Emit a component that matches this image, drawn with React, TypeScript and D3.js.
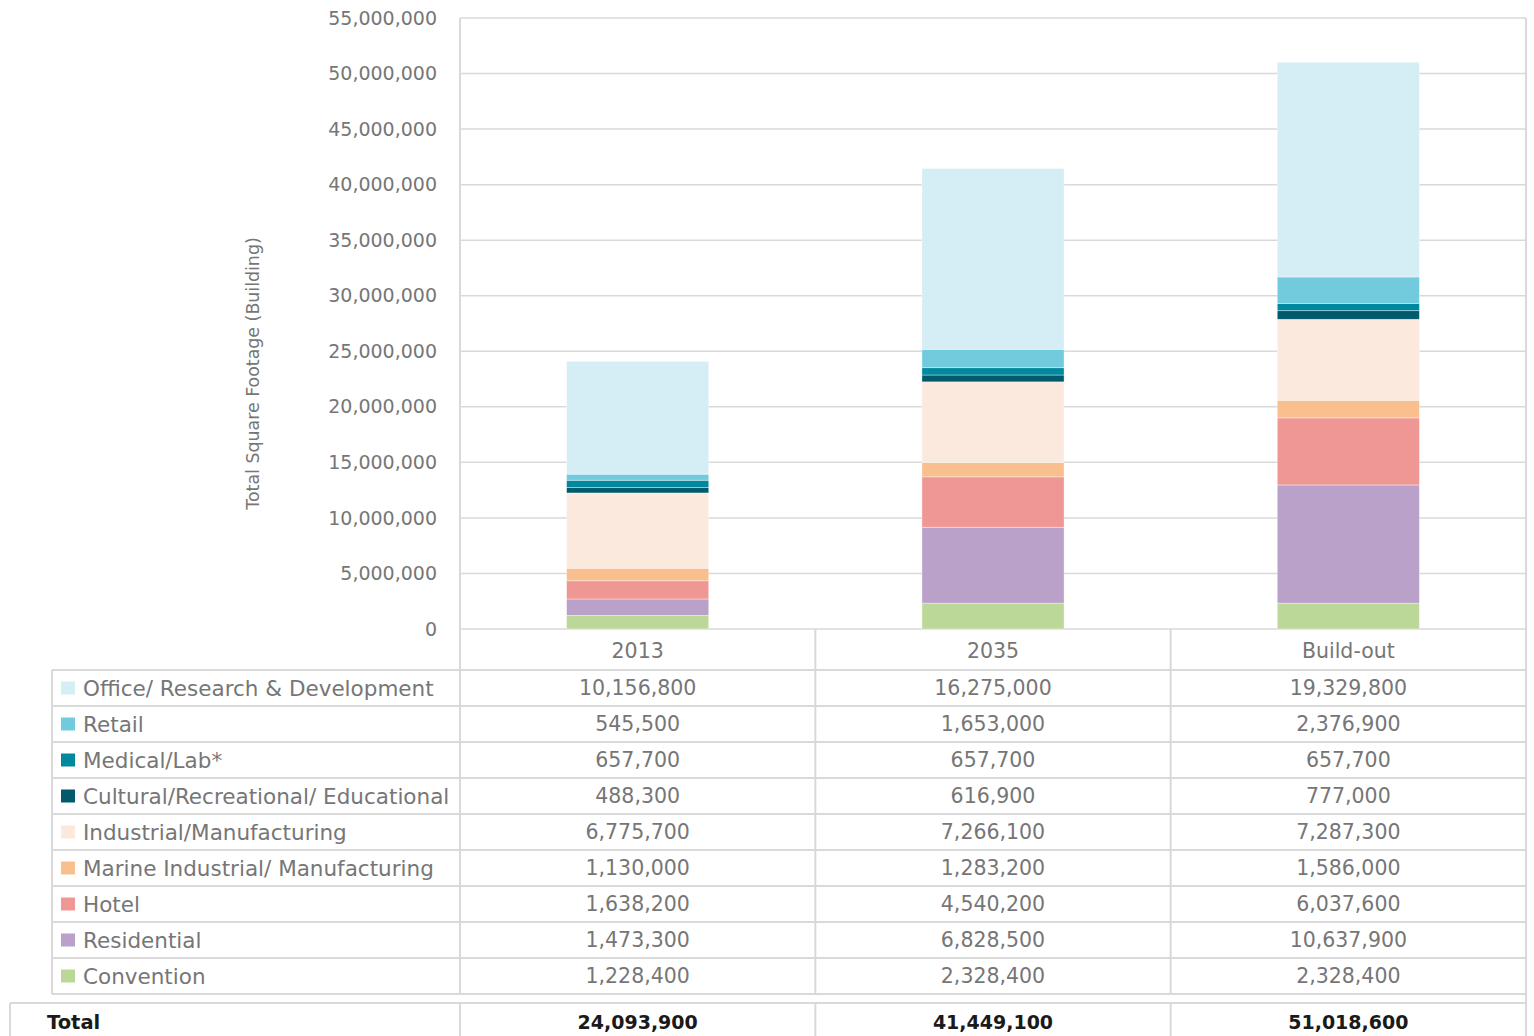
import * as d3 from 'd3';

// Columns of the chart / table
const periods = ['2013', '2035', 'Build-out'];

// Series, listed as in the table (top to bottom)
const seriesNames = [
  'Office/ Research & Development',
  'Retail',
  'Medical/Lab*',
  'Cultural/Recreational/ Educational',
  'Industrial/Manufacturing',
  'Marine Industrial/ Manufacturing',
  'Hotel',
  'Residential',
  'Convention',
];

const office = [10156800, 16275000, 19329800];
const retail = [545500, 1653000, 2376900];
const medical = [657700, 657700, 657700];
const cultural = [488300, 616900, 777000];
const industrial = [6775700, 7266100, 7287300];
const marine = [1130000, 1283200, 1586000];
const hotel = [1638200, 4540200, 6037600];
const residential = [1473300, 6828500, 10637900];
const convention = [1228400, 2328400, 2328400];

// Totals as printed in the source table
const totals = [24093900, 41449100, 51018600];

const seriesValues = [office, retail, medical, cultural, industrial, marine, hotel, residential, convention];

const seriesColors = [
  '#d5edf4', '#72cbdc', '#00889e', '#005a6b', '#fce9dd',
  '#f9bf8f', '#ef9795', '#b9a1ca', '#bcd898',
];

const yTicks = [0, 5e6, 10e6, 15e6, 20e6, 25e6, 30e6, 35e6, 40e6, 45e6, 50e6, 55e6];

export default function App() {
  const width = 1534;
  const height = 1036;

  // Plot area
  const left = 460;
  const right = 1526;
  const top = 18;
  const bottom = 629;

  // Table layout
  const headerBottom = 670;
  const rowH = 36;
  const legendLeft = 52;
  const tableBottom = headerBottom + rowH * seriesNames.length;
  const totalTop = 1003;

  const font = '"DejaVu Sans", "Open Sans", sans-serif';
  const grid = '#d9d9d9';
  const textColor = '#767676';

  const x = d3.scaleBand<string>().domain(periods).range([left, right]).paddingInner(0).paddingOuter(0);
  const y = d3.scaleLinear().domain([0, 55e6]).range([bottom, top]);
  const fmt = d3.format(',');
  const barW = x.bandwidth() * 0.4;

  // Stack bottom-up: convention first, office last
  const stackKeys = seriesNames.map((_, i) => i).reverse();
  const rows = periods.map((p, j) => {
    const r: Record<string, number | string> = { period: p };
    seriesNames.forEach((n, i) => (r[n] = seriesValues[i][j]));
    return r;
  });
  const stack = d3.stack<any>().keys(stackKeys.map((i) => seriesNames[i]));
  const layers = stack(rows);

  const colEdges = [left, ...periods.map((p) => (x(p) ?? 0) + x.bandwidth())];

  return (
    <svg width={width} height={height} style={{ position: 'absolute', left: 0, top: 0, background: '#fff' }}>
      {/* gridlines */}
      {yTicks.map((t) => (
        <line key={t} x1={left} x2={right} y1={y(t)} y2={y(t)} stroke={grid} strokeWidth={1.5} />
      ))}
      <line x1={left} x2={left} y1={top} y2={height} stroke={grid} strokeWidth={2} />
      <line x1={right} x2={right} y1={top} y2={height} stroke={grid} strokeWidth={2} />

      {/* y tick labels */}
      {yTicks.map((t) => (
        <text key={t} x={437} y={y(t)} dy="0.35em" textAnchor="end" fontFamily={font} fontSize={19} fill={textColor}>
          {fmt(t)}
        </text>
      ))}

      <text
        transform={`translate(259, ${(y(0) + y(55e6)) / 2 + 50}) rotate(-90)`}
        textAnchor="middle"
        fontFamily={font}
        fontSize={17.4}
        fill={textColor}
      >
        Total Square Footage (Building)
      </text>

      {/* bars */}
      {layers.map((layer) => {
        const i = seriesNames.indexOf(layer.key as string);
        return (
          <g key={layer.key as string} fill={seriesColors[i]}>
            {layer.map((d, j) => (
              <rect
                key={j}
                x={(x(periods[j]) ?? 0) + (x.bandwidth() - barW) / 2}
                y={y(d[1])}
                width={barW}
                height={y(d[0]) - y(d[1])}
                stroke="#ffffff"
                strokeOpacity={0.5}
                strokeWidth={0.75}
              />
            ))}
          </g>
        );
      })}

      {/* table lines */}
      {d3.range(seriesNames.length + 1).map((k) => (
        <line key={k} x1={legendLeft} x2={right} y1={headerBottom + k * rowH} y2={headerBottom + k * rowH} stroke={grid} strokeWidth={2} />
      ))}
      <line x1={legendLeft} x2={legendLeft} y1={headerBottom} y2={tableBottom} stroke={grid} strokeWidth={2} />
      {colEdges.slice(1, -1).map((cx) => (
        <line key={cx} x1={cx} x2={cx} y1={bottom} y2={height} stroke={grid} strokeWidth={2} />
      ))}

      {/* header */}
      {periods.map((p) => (
        <text key={p} x={(x(p) ?? 0) + x.bandwidth() / 2} y={(bottom + headerBottom) / 2 + 1} dy="0.35em" textAnchor="middle" fontFamily={font} fontSize={20.5} fill={textColor}>
          {p}
        </text>
      ))}

      {/* rows */}
      {seriesNames.map((name, i) => {
        const cy = headerBottom + i * rowH + rowH / 2;
        return (
          <g key={name}>
            <rect x={61} y={cy - 6.5} width={14} height={13} fill={seriesColors[i]} />
            <text x={83} y={cy} dy="0.35em" fontFamily={font} fontSize={21.5} fill={textColor}>
              {name}
            </text>
            {periods.map((p, j) => (
              <text key={p} x={(x(p) ?? 0) + x.bandwidth() / 2} y={cy} dy="0.35em" textAnchor="middle" fontFamily={font} fontSize={20.5} fill={textColor}>
                {fmt(seriesValues[i][j])}
              </text>
            ))}
          </g>
        );
      })}

      {/* total row */}
      <line x1={10} x2={right} y1={totalTop} y2={totalTop} stroke={grid} strokeWidth={2} />
      <line x1={10} x2={10} y1={totalTop} y2={height} stroke={grid} strokeWidth={2} />
      <rect x={11} y={tableBottom + 1} width={right - 12} height={totalTop - tableBottom - 2} fill="#fff" />
      <text x={47} y={1022} dy="0.35em" fontFamily={font} fontSize={19.5} fontWeight="bold" fill="#1a1a1a">
        Total
      </text>
      {periods.map((p, j) => (
        <text key={p} x={(x(p) ?? 0) + x.bandwidth() / 2} y={1022} dy="0.35em" textAnchor="middle" fontFamily={font} fontSize={19} fontWeight="bold" fill="#1a1a1a">
          {fmt(totals[j])}
        </text>
      ))}
    </svg>
  );
}
